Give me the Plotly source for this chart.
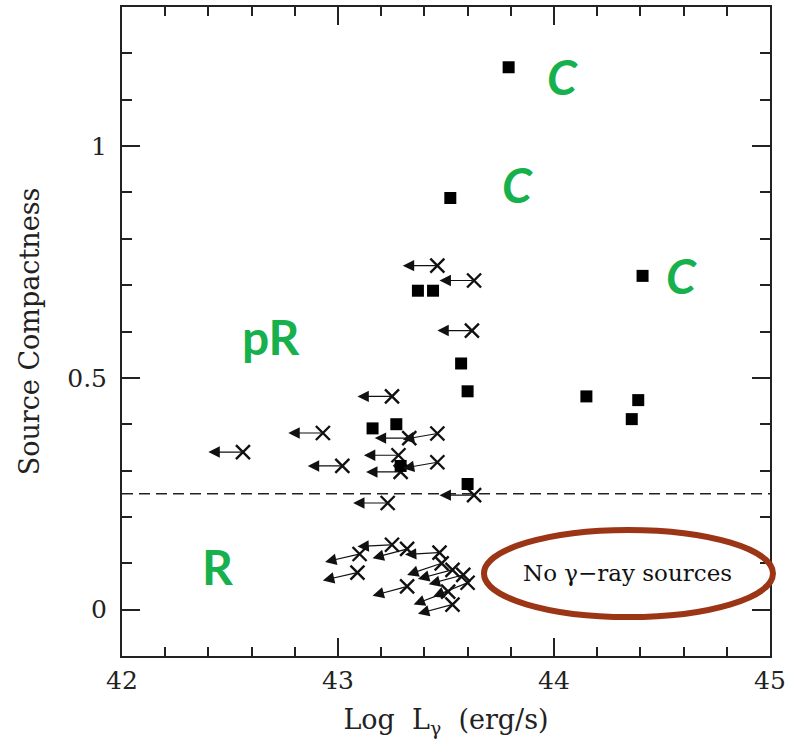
import plotly.graph_objects as go

# ---- data ----
# gamma-ray detected sources (filled squares)
det_logL = [43.79, 43.52, 44.41, 43.37, 43.44, 43.57, 43.60, 44.15, 44.39, 44.36, 43.16, 43.27, 43.29, 43.60]
det_comp = [1.17, 0.888, 0.72, 0.688, 0.688, 0.531, 0.471, 0.46, 0.452, 0.411, 0.391, 0.40, 0.31, 0.271]

# upper limits (crosses with left arrows)
ul_logL = [43.46, 43.63, 43.62, 43.25, 42.93, 42.56, 43.02, 43.33, 43.46, 43.28, 43.46, 43.29, 43.63, 43.23,
           43.10, 43.25, 43.32, 43.47, 43.09, 43.48, 43.53, 43.58, 43.32, 43.60, 43.51, 43.53]
ul_comp = [0.742, 0.71, 0.602, 0.46, 0.381, 0.34, 0.31, 0.37, 0.38, 0.333, 0.318, 0.297, 0.247, 0.23,
           0.12, 0.14, 0.131, 0.123, 0.08, 0.10, 0.086, 0.075, 0.05, 0.058, 0.039, 0.011]
# vertical drift of each arrow (compactness units)
ul_arrow_dy = [0.0, 0.0, 0.0, 0.0, 0.0, 0.0, 0.0, 0.0, -0.013, 0.0, -0.013, 0.0, 0.0, 0.0,
               -0.017, -0.004, -0.02, -0.004, -0.017, -0.025, -0.02, -0.02, -0.02, -0.03, -0.028, -0.02]
arrow_len = 0.16  # dex

threshold = 0.25

x_ticks = [42, 43, 44, 45]
y_ticks = [0, 0.5, 1]

region_text = ["C", "C", "C", "pR", "R"]
region_x = [44.04, 43.83, 44.59, 42.69, 42.44]
region_y = [1.15, 0.918, 0.72, 0.59, 0.092]

# ---- figure ----
fig = go.Figure()

# arrows for upper limits
annotations = []
for xv, yv, dy in zip(ul_logL, ul_comp, ul_arrow_dy):
    annotations.append(dict(
        x=xv - arrow_len, y=yv + dy, ax=xv, ay=yv,
        xref="x", yref="y", axref="x", ayref="y",
        text="", showarrow=True, arrowhead=2, arrowsize=1.9,
        arrowwidth=1.2, arrowcolor="#111", standoff=0, startstandoff=0,
    ))

fig.add_trace(go.Scatter(
    x=ul_logL, y=ul_comp, mode="markers",
    marker=dict(symbol="x-thin", size=14, line=dict(width=2.4, color="#111")),
    showlegend=False, hoverinfo="skip",
))
fig.add_trace(go.Scatter(
    x=det_logL, y=det_comp, mode="markers",
    marker=dict(symbol="square", size=12, color="#000"),
    showlegend=False, hoverinfo="skip",
))

GREEN = "#16b04c"
for t, xv, yv in zip(region_text, region_x, region_y):
    txt = "<b><i>" + t + "</i></b>" if t == "C" else "<b>" + t + "</b>"
    annotations.append(dict(
        x=xv, y=yv, xref="x", yref="y", text=txt, showarrow=False,
        font=dict(family="Lato", size=48, color=GREEN),
    ))

annotations.append(dict(
    x=44.34, y=0.08, xref="x", yref="y", text="No γ−ray sources", showarrow=False,
    font=dict(family="DejaVu Serif", size=23, color="#111"),
))

shapes = [
    dict(type="line", xref="paper", x0=0, x1=1, yref="y", y0=threshold, y1=threshold,
         line=dict(color="#222", width=1.4, dash="11px,6px"), layer="below"),
    dict(type="circle", xref="paper", yref="y", x0=0.5586, x1=1.0046, y0=-0.016, y1=0.172,
         line=dict(color="#9b3516", width=6)),
]

axis_common = dict(
    showgrid=False, zeroline=False, showline=True, linewidth=2, linecolor="#222",
    mirror="allticks", ticks="inside", tickwidth=1.5, tickcolor="#222",
    tickfont=dict(family="DejaVu Serif", size=25, color="#222"),
    automargin=False,
)

fig.update_layout(
    width=801, height=739,
    margin=dict(l=122, r=31, t=7, b=83),
    paper_bgcolor="white", plot_bgcolor="white",
    xaxis=dict(range=[42, 45], tickvals=x_ticks, ticklen=18,
               minor=dict(dtick=0.2, tick0=42, ticklen=9, ticks="inside", tickwidth=1.5, tickcolor="#222"),
               title=dict(text="Log\u00a0 L<sub>γ</sub>\u00a0 (erg/s)", standoff=16,
                          font=dict(family="DejaVu Serif", size=27, color="#222")),
               ticklabelstandoff=1,
               **axis_common),
    yaxis=dict(range=[-0.1, 1.3], tickvals=y_ticks, ticklen=18,
               minor=dict(dtick=0.1, tick0=0, ticklen=10, ticks="inside", tickwidth=1.5, tickcolor="#222"),
               title=dict(text="Source Compactness", standoff=20,
                          font=dict(family="DejaVu Serif", size=27, color="#222")),
               ticklabelstandoff=8,
               **axis_common),
    annotations=annotations,
    shapes=shapes,
)

fig.write_html("out.html")
